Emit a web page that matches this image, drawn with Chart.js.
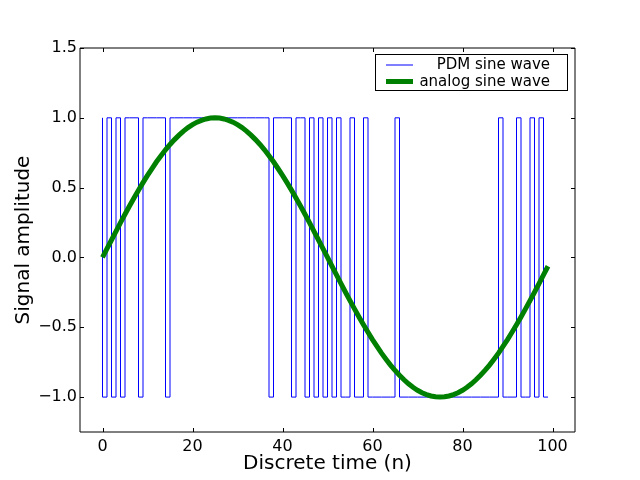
<!DOCTYPE html>
<html>
<head>
<meta charset="utf-8">
<script src="https://cdn.jsdelivr.net/npm/chart.js@4/dist/chart.umd.min.js"></script>
<style>
  html, body { margin: 0; padding: 0; background: #ffffff; }
  canvas { display: block; }
</style>
</head>
<body>
<canvas id="c" width="640" height="480"></canvas>
<script>
// Discrete time index n
const timeIndex = [
  0,1,2,3,4,5,6,7,8,9,
  10,11,12,13,14,15,16,17,18,19,
  20,21,22,23,24,25,26,27,28,29,
  30,31,32,33,34,35,36,37,38,39,
  40,41,42,43,44,45,46,47,48,49,
  50,51,52,53,54,55,56,57,58,59,
  60,61,62,63,64,65,66,67,68,69,
  70,71,72,73,74,75,76,77,78,79,
  80,81,82,83,84,85,86,87,88,89,
  90,91,92,93,94,95,96,97,98,99
];

// PDM sine wave
const pdmValues = [
   1,-1, 1,-1, 1,-1, 1, 1, 1,-1,
   1, 1, 1, 1, 1,-1, 1, 1, 1, 1,
   1, 1, 1, 1, 1, 1, 1, 1, 1, 1,
   1, 1, 1, 1, 1, 1, 1, 1,-1, 1,
   1, 1, 1,-1, 1, 1,-1, 1,-1, 1,
  -1, 1,-1, 1,-1,-1, 1,-1,-1, 1,
  -1,-1,-1,-1,-1,-1, 1,-1,-1,-1,
  -1,-1,-1,-1,-1,-1,-1,-1,-1,-1,
  -1,-1,-1,-1,-1,-1,-1,-1,-1, 1,
  -1,-1,-1, 1,-1,-1, 1,-1, 1,-1
];

// analog sine wave
const analogValues = [
   0.000, 0.063, 0.125, 0.187, 0.249, 0.309, 0.368, 0.426, 0.482, 0.536,
   0.588, 0.637, 0.685, 0.729, 0.771, 0.809, 0.844, 0.876, 0.905, 0.930,
   0.951, 0.969, 0.982, 0.992, 0.998, 1.000, 0.998, 0.992, 0.982, 0.969,
   0.951, 0.930, 0.905, 0.876, 0.844, 0.809, 0.771, 0.729, 0.685, 0.637,
   0.588, 0.536, 0.482, 0.426, 0.368, 0.309, 0.249, 0.187, 0.125, 0.063,
   0.000,-0.063,-0.125,-0.187,-0.249,-0.309,-0.368,-0.426,-0.482,-0.536,
  -0.588,-0.637,-0.685,-0.729,-0.771,-0.809,-0.844,-0.876,-0.905,-0.930,
  -0.951,-0.969,-0.982,-0.992,-0.998,-1.000,-0.998,-0.992,-0.982,-0.969,
  -0.951,-0.930,-0.905,-0.876,-0.844,-0.809,-0.771,-0.729,-0.685,-0.637,
  -0.588,-0.536,-0.482,-0.426,-0.368,-0.309,-0.249,-0.187,-0.125,-0.063
];

const xTickValues = [0, 20, 40, 60, 80, 100];
const yTickValues = [-1.0, -0.5, 0.0, 0.5, 1.0, 1.5];
const seriesNames = ['PDM sine wave', 'analog sine wave'];
const axisTitles = { x: 'Discrete time (n)', y: 'Signal amplitude' };

const FONT = "'DejaVu Sans', 'Liberation Sans', sans-serif";

function toPoints(xs, ys) {
  return xs.map((x, i) => ({ x: x, y: ys[i] }));
}

function fmtY(v) {
  const s = Math.abs(v).toFixed(1);
  return v < 0 ? '\u2212' + s : s;
}

const framePlugin = {
  id: 'frameAndTicks',
  afterDatasetsDraw(chart) {
    const ctx = chart.ctx;
    const { left, right, top, bottom } = chart.chartArea;
    const xs = chart.scales.x, ys = chart.scales.y;
    ctx.save();
    ctx.strokeStyle = '#000000';
    ctx.lineWidth = 1;
    ctx.beginPath();
    ctx.rect(left, top, right - left, bottom - top);
    ctx.stroke();
    ctx.beginPath();
    const tl = 4;
    xTickValues.forEach(v => {
      const px = Math.round(xs.getPixelForValue(v)) + 0.5;
      ctx.moveTo(px, bottom); ctx.lineTo(px, bottom - tl);
      ctx.moveTo(px, top); ctx.lineTo(px, top + tl);
    });
    yTickValues.forEach(v => {
      const py = Math.round(ys.getPixelForValue(v)) + 0.5;
      ctx.moveTo(left, py); ctx.lineTo(left + tl, py);
      ctx.moveTo(right, py); ctx.lineTo(right - tl, py);
    });
    ctx.stroke();
    ctx.restore();
  },
  afterDraw(chart) {
    // legend box
    const ctx = chart.ctx;
    const { right, top } = chart.chartArea;
    const boxR = right - 8, boxT = top + 6, boxW = 192, boxH = 36;
    const boxL = boxR - boxW;
    ctx.save();
    ctx.fillStyle = '#ffffff';
    ctx.fillRect(boxL, boxT, boxW, boxH);
    ctx.strokeStyle = '#000000';
    ctx.lineWidth = 1;
    ctx.strokeRect(boxL + 0.5, boxT + 0.5, boxW, boxH);
    const ds = chart.data.datasets;
    const entries = [ds[1], ds[0]]; // PDM first, analog second
    const rowY = [boxT + 11, boxT + 27.5];
    ctx.font = '15px ' + FONT;
    ctx.textAlign = 'right';
    ctx.textBaseline = 'middle';
    entries.forEach((d, i) => {
      ctx.strokeStyle = d.borderColor;
      ctx.lineWidth = d.borderWidth;
      ctx.beginPath();
      ctx.moveTo(boxL + 11, rowY[i]);
      ctx.lineTo(boxL + 38, rowY[i]);
      ctx.stroke();
      ctx.fillStyle = '#000000';
      ctx.fillText(d.label, boxR - 17, rowY[i] + 0.5);
    });
    ctx.restore();
  }
};

new Chart(document.getElementById('c'), {
  type: 'line',
  data: {
    datasets: [
      {
        label: seriesNames[1],
        data: toPoints(timeIndex, analogValues),
        borderColor: '#008000',
        backgroundColor: '#008000',
        borderWidth: 5,
        pointRadius: 0,
        tension: 0,
        fill: false
      },
      {
        label: seriesNames[0],
        data: toPoints(timeIndex, pdmValues),
        borderColor: '#0000ff',
        backgroundColor: '#0000ff',
        borderWidth: 1,
        pointRadius: 0,
        stepped: 'after',
        fill: false
      }
    ]
  },
  options: {
    responsive: false,
    animation: false,
    devicePixelRatio: 1,
    layout: { padding: { left: 0, right: 65, top: 48, bottom: 0 } },
    plugins: {
      legend: { display: false },
      tooltip: { enabled: false }
    },
    scales: {
      x: {
        type: 'linear',
        min: -5,
        max: 105,
        grid: { display: false, drawTicks: false },
        border: { display: false },
        afterBuildTicks: s => { s.ticks = xTickValues.map(v => ({ value: v })); },
        afterFit: s => { s.height = 48; },
        ticks: {
          color: '#000000',
          padding: 5,
          font: { family: FONT, size: 16 },
          maxRotation: 0,
          callback: v => String(v)
        },
        title: {
          display: true,
          text: axisTitles.x,
          color: '#000000',
          font: { family: FONT, size: 20 },
          padding: { top: 0, bottom: 4 }
        }
      },
      y: {
        type: 'linear',
        min: -1.25,
        max: 1.5,
        grid: { display: false, drawTicks: false },
        border: { display: false },
        afterBuildTicks: s => { s.ticks = yTickValues.map(v => ({ value: v })); },
        afterFit: s => { s.width = 80; },
        ticks: {
          color: '#000000',
          padding: 3,
          font: { family: FONT, size: 16 },
          callback: v => fmtY(v)
        },
        title: {
          display: true,
          text: axisTitles.y,
          color: '#000000',
          font: { family: FONT, size: 20 },
          padding: { top: 12, bottom: 0 }
        }
      }
    }
  },
  plugins: [framePlugin]
});
</script>
</body>
</html>
